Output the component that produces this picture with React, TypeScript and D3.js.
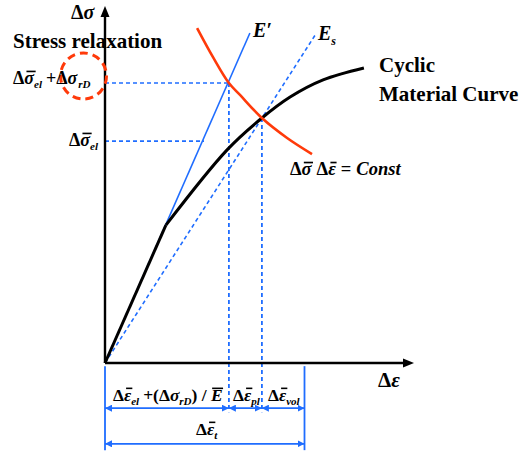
import React, { useLayoutEffect, useRef, useState } from "react";
import * as d3 from "d3";

// ---- data (strain / stress in arbitrary diagram units) ----
const cyclicCurve: [number, number][] = [
  [0, 0], [20.3, 39.4], [40.7, 60.9], [52.3, 70], [61.7, 76], [72.7, 80.9], [86.3, 84.3],
];
const constCurve: [number, number][] = [
  [30.7, 95.7], [36, 87.4], [41.3, 80], [45, 76.6], [52.3, 70], [60.7, 64.3], [69, 59.7],
];
const ePrimeLine: [number, number][] = [[0, 0], [48.3, 94.3]];
const esLine: [number, number][] = [[0, 0], [70.5, 94.3]];
const stressLevels = [80, 63.4];          // Δσel+ΔσrD , Δσel
const stressGuideEnds = [41.3, 33];        // strain where horizontal guides end
const strainMarks = [0, 41.3, 52.3, 66.5]; // dimension chain
const strainMarkTops = [80, 70];           // stress where vertical dashed guides start
const dimRow1 = -12.9;
const dimRow2 = -23.1;

const W = 529, H = 453;
const BLUE = "#1f6dff";
const RED = "#ff3a0a";
const FONT = "'Liberation Serif', 'Times New Roman', serif";

type Bar = { x1: number; x2: number; y: number; w: number };

export default function App() {
  const svgRef = useRef<SVGSVGElement>(null);
  const [bars, setBars] = useState<Bar[]>([]);

  const x = d3.scaleLinear().domain([0, 100]).range([105, 405]);
  const y = d3.scaleLinear().domain([0, 100]).range([363, 13]);
  const line = d3.line<[number, number]>().x(d => x(d[0])).y(d => y(d[1]));
  const smooth = d3.line<[number, number]>().x(d => x(d[0])).y(d => y(d[1])).curve(d3.curveCatmullRom.alpha(0.5));

  useLayoutEffect(() => {
    const svg = svgRef.current;
    if (!svg) return;
    const out: Bar[] = [];
    svg.querySelectorAll<SVGTSpanElement>("tspan.ob").forEach(el => {
      const b = el.getBBox();
      const fs = parseFloat(getComputedStyle(el).fontSize);
      const base = b.y + 0.891 * fs;
      out.push({ x1: b.x + fs * 0.12, x2: b.x + b.width + fs * 0.02, y: base - 0.7 * fs, w: fs * 0.09 });
    });
    setBars(out);
  }, []);

  const mathStyle: React.CSSProperties = { fontFamily: FONT, fontWeight: "bold", fontStyle: "italic" };
  const up: React.CSSProperties = { fontStyle: "normal" };

  const dims: [number, number, number][] = [
    [strainMarks[0], strainMarks[1], dimRow1],
    [strainMarks[1], strainMarks[2], dimRow1],
    [strainMarks[2], strainMarks[3], dimRow1],
    [strainMarks[0], strainMarks[3], dimRow2],
  ];

  return (
    <svg ref={svgRef} width={W} height={H} style={{ position: "absolute", left: 0, top: 0, background: "#fff" }}>
      <defs>
        <marker id="ah" viewBox="0 0 10 10" refX="10" refY="5" markerWidth="7" markerHeight="7"
          markerUnits="userSpaceOnUse" orient="auto-start-reverse">
          <path d="M0,0 L10,5 L0,10 z" fill={BLUE} />
        </marker>
      </defs>
      <rect width={W} height={H} fill="#fff" />

      {/* E_s dashed */}
      <path d={line(esLine)!} stroke={BLUE} strokeWidth={1.6} strokeDasharray="4,3" fill="none" />
      {/* E' solid */}
      <path d={line(ePrimeLine)!} stroke={BLUE} strokeWidth={1.6} fill="none" />

      {/* horizontal guides */}
      {stressLevels.map((s, i) => (
        <line key={"h" + i} x1={x(0)} x2={x(stressGuideEnds[i])} y1={y(s)} y2={y(s)}
          stroke={BLUE} strokeWidth={1.6} strokeDasharray="4,3" />
      ))}
      {/* vertical dashed guides */}
      {[1, 2].map((k, i) => (
        <line key={"v" + i} x1={x(strainMarks[k])} x2={x(strainMarks[k])} y1={y(strainMarkTops[i])} y2={y(dimRow1 - 1.2)}
          stroke={BLUE} strokeWidth={1.8} strokeDasharray="4,3" />
      ))}
      {/* vertical solid extents */}
      {[0, 3].map(k => (
        <line key={"s" + k} x1={x(strainMarks[k])} x2={x(strainMarks[k])} y1={y(-0.9)} y2={y(-24.9)}
          stroke={BLUE} strokeWidth={1.8} />
      ))}
      {/* dimension arrows */}
      {dims.map((d, i) => (
        <line key={"d" + i} x1={x(d[0])} x2={x(d[1])} y1={y(d[2])} y2={y(d[2])}
          stroke={BLUE} strokeWidth={1.8} markerStart="url(#ah)" markerEnd="url(#ah)" />
      ))}

      {/* cyclic material curve */}
      <path d={line(cyclicCurve.slice(0, 2))!} stroke="#000" strokeWidth={3} fill="none" />
      <path d={smooth(cyclicCurve.slice(1))!} stroke="#000" strokeWidth={3} fill="none" strokeLinejoin="round" />
      {/* constant product curve */}
      <path d={smooth(constCurve)!} stroke={RED} strokeWidth={2.6} fill="none" />

      {/* axes */}
      <line x1={x(0)} y1={y(0)} x2={x(0)} y2={14} stroke="#000" strokeWidth={2.4} />
      <path d={`M${x(0)},6 L${x(0) - 4.5},17 L${x(0) + 4.5},17 z`} fill="#000" />
      <line x1={x(0)} y1={y(0)} x2={405} y2={y(0)} stroke="#000" strokeWidth={2.4} />
      <path d={`M414,${y(0)} L403,${y(0) - 4.5} L403,${y(0) + 4.5} z`} fill="#000" />

      {/* red dashed circle */}
      <circle cx={83.5} cy={76} r={23} fill="none" stroke={RED} strokeWidth={3} strokeDasharray="8,5" />

      {/* texts */}
      <text x={71} y={19} fontSize={20} style={mathStyle}><tspan style={up}>Δ</tspan>σ</text>
      <text x={13} y={48} fontSize={21} fontFamily={FONT} fontWeight="bold">Stress relaxation</text>
      <text x={13} y={84} fontSize={18} style={mathStyle}>
        <tspan style={up}>Δ</tspan><tspan className="ob">σ</tspan><tspan fontSize={11} dy={4}>el</tspan>
        <tspan dy={-4} style={up} dx={4}>+Δ</tspan>σ<tspan fontSize={11} dy={4} dx={1}>rD</tspan>
      </text>
      <text x={69} y={146} fontSize={18} style={mathStyle}>
        <tspan style={up}>Δ</tspan><tspan className="ob">σ</tspan><tspan fontSize={11} dy={4}>el</tspan>
      </text>
      <text x={253} y={37} fontSize={20} style={mathStyle}>E′</text>
      <text x={318} y={40} fontSize={20} style={mathStyle}>E<tspan fontSize={12} dy={5}>s</tspan></text>
      <text x={379} y={72} fontSize={21} fontFamily={FONT} fontWeight="bold">Cyclic</text>
      <text x={379} y={101} fontSize={21} fontFamily={FONT} fontWeight="bold">Material Curve</text>
      <text x={290} y={175} fontSize={18.5} style={mathStyle}>
        <tspan style={up}>Δ</tspan><tspan className="ob">σ</tspan><tspan style={up} dx={5}>Δ</tspan><tspan className="ob">ε</tspan>
        <tspan style={up} dx={5}>=</tspan><tspan dx={5}>Const</tspan>
      </text>
      <text x={378} y={387} fontSize={21} style={mathStyle}><tspan style={up}>Δ</tspan>ε</text>

      <text x={113} y={401} fontSize={17.5} style={mathStyle}>
        <tspan style={up}>Δ</tspan><tspan className="ob">ε</tspan><tspan fontSize={11} dy={4}>el</tspan>
        <tspan dy={-4} style={up} dx={4}>+(Δ</tspan>σ<tspan fontSize={11} dy={4}>rD</tspan>
        <tspan dy={-4} style={up}>) / </tspan><tspan className="ob">E</tspan>
      </text>
      <text x={233} y={401} fontSize={17.5} style={mathStyle}>
        <tspan style={up}>Δ</tspan><tspan className="ob">ε</tspan><tspan fontSize={11} dy={4}>pl</tspan>
      </text>
      <text x={268} y={401} fontSize={17.5} style={mathStyle}>
        <tspan style={up}>Δ</tspan><tspan className="ob">ε</tspan><tspan fontSize={11} dy={4}>vol</tspan>
      </text>
      <text x={196} y={435} fontSize={17.5} style={mathStyle}>
        <tspan style={up}>Δ</tspan><tspan className="ob">ε</tspan><tspan fontSize={11} dy={4}>t</tspan>
      </text>

      {bars.map((b, i) => (
        <line key={"ob" + i} x1={b.x1} x2={b.x2} y1={b.y} y2={b.y} stroke="#000" strokeWidth={b.w} />
      ))}
    </svg>
  );
}
